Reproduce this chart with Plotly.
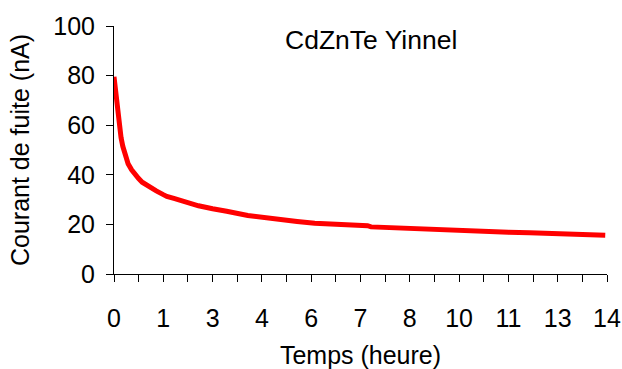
import plotly.graph_objects as go

# Data
temps = [0, 0.02, 0.03, 0.05, 0.08, 0.1, 0.13, 0.15, 0.2, 0.25, 0.3, 0.4, 0.5, 0.6, 0.7, 0.8,
         1.0, 1.2, 1.4, 1.5, 1.7, 2.0, 2.2, 2.4, 2.8, 3.0, 3.2, 3.8, 4.3, 4.4, 4.7, 5.2, 5.7, 6.2,
         6.8, 7.2, 7.3, 7.8, 8.2, 8.3, 8.8, 9.4, 10.0, 10.1, 10.6, 11.2, 11.8, 12.4, 13.0, 13.6, 13.8, 13.95]
courant = [79.5, 77, 74, 73, 72, 67, 63, 60, 55, 51.5, 48.5, 44.5, 42, 40, 38.5, 37,
           35, 33.5, 32, 31.3, 30.5, 29.2, 28.6, 27.5, 26.3, 26.0, 25.3, 23.6, 22.6, 22.3, 21.8, 21.2, 20.5, 20.2,
           19.7, 19.5, 19.0, 18.7, 18.6, 18.3, 18.1, 17.7, 17.4, 17.1, 17.0, 16.8, 16.6, 16.4, 16.3, 16.2, 16.1, 15.6]

x_tick_vals = [0.7 * i for i in range(21)]
x_tick_text = ["0", "", "1", "", "3", "", "4", "", "6", "", "7", "", "8", "", "10", "", "11", "", "13", "", "14"]
y_tick_vals = [0, 20, 40, 60, 80, 100]

FONT = "Liberation Sans, Arial, sans-serif"

fig = go.Figure()
fig.add_trace(go.Scatter(x=temps, y=courant, mode="lines",
                         line=dict(color="#ff0000", width=5), showlegend=False))

fig.update_layout(
    width=622, height=369,
    margin=dict(l=114, r=15, t=26, b=95),
    paper_bgcolor="white", plot_bgcolor="white",
    font=dict(family=FONT, size=25, color="black"),
    xaxis=dict(range=[0, 14], tickmode="array", tickvals=x_tick_vals, ticktext=x_tick_text,
               showgrid=False, zeroline=False, showline=True, linecolor="black", linewidth=1,
               ticks="outside", ticklen=7, tickcolor="black", tickwidth=1, automargin=False,
               tickfont=dict(size=25, family=FONT),
               title=dict(text="Temps (heure)", standoff=20, font=dict(size=25, family=FONT)),
               ticklabelstandoff=15),
    yaxis=dict(range=[0, 100], tickmode="array", tickvals=y_tick_vals,
               showgrid=False, zeroline=False, showline=True, linecolor="black", linewidth=1,
               ticks="outside", ticklen=7, tickcolor="black", tickwidth=1, automargin=False,
               tickfont=dict(size=25, family=FONT),
               title=dict(text="Courant de fuite (nA)", standoff=16, font=dict(size=25, family=FONT)),
               ticklabelstandoff=6),
    annotations=[dict(text="CdZnTe Yinnel", x=0.522, y=0.945, xref="paper", yref="paper",
                      xanchor="center", yanchor="middle",
                      showarrow=False, font=dict(size=26.5, family=FONT))],
)

fig.write_html("out.html")
